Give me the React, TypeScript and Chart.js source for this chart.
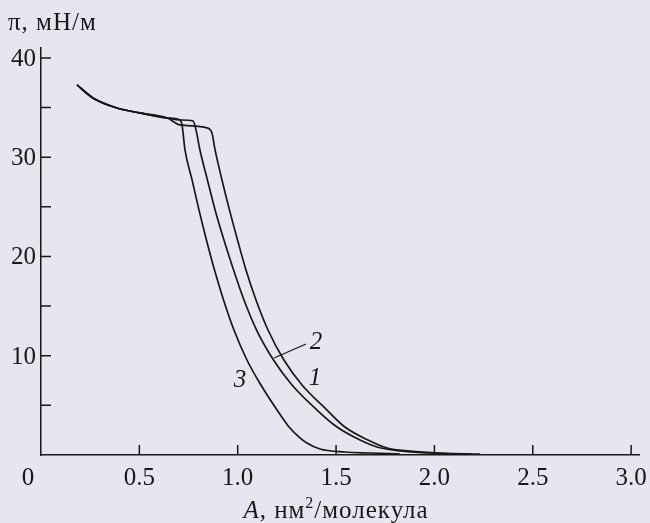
import React, { useEffect, useRef } from "react";
import { Chart, registerables } from "chart.js";

Chart.register(...registerables);

// Common starting branch (all three isotherms coincide here)
const plateauX = [0.183, 0.264, 0.386, 0.503, 0.641];
const plateauY = [37.28, 35.97, 34.96, 34.46, 33.95];

// Curve 3
const curve3X = [0.707, 0.717, 0.732, 0.768, 0.803, 0.841, 0.882, 0.928, 0.981, 1.047, 1.118, 1.2, 1.261, 1.312, 1.352, 1.418, 1.545, 1.673, 1.825];
const curve3Y = [33.75, 33.25, 30.73, 27.71, 24.69, 21.66, 18.64, 15.62, 12.59, 9.57, 7.05, 4.53, 2.82, 1.81, 1.21, 0.6, 0.3, 0.2, 0.1];

// Curve 2
const curve2X = [0.707, 0.773, 0.788, 0.808, 0.846, 0.885, 0.93, 0.979, 1.032, 1.096, 1.182, 1.276, 1.403, 1.505, 1.622, 1.708, 1.825, 1.978, 2.181];
const curve2Y = [33.75, 33.65, 32.75, 30.73, 27.71, 24.69, 21.66, 18.64, 15.62, 12.59, 9.57, 7.05, 4.53, 2.82, 1.51, 0.81, 0.4, 0.2, 0.1];

// Curve 1
const curve1X = [0.707, 0.844, 0.869, 0.885, 0.92, 0.958, 0.999, 1.042, 1.093, 1.154, 1.235, 1.327, 1.454, 1.545, 1.662, 1.759, 1.876, 2.028, 2.232];
const curve1Y = [33.25, 32.95, 32.44, 30.73, 27.71, 24.69, 21.66, 18.64, 15.62, 12.59, 9.57, 7.05, 4.53, 2.82, 1.51, 0.71, 0.4, 0.2, 0.1];

const xTicks = [0.5, 1.0, 1.5, 2.0, 2.5, 3.0];
const xTickLabels = ["0.5", "1.0", "1.5", "2.0", "2.5", "3.0"];
const yTicks = [5, 10, 15, 20, 25, 30, 35, 40];
const yLabelled = [10, 20, 30, 40];

const curveLabels = [
  { text: "3", x: 1.012, y: 7.56 },
  { text: "1", x: 1.393, y: 7.76 },
  { text: "2", x: 1.398, y: 11.39 },
];
const leader2 = { x1: 1.347, y1: 11.18, x2: 1.185, y2: 9.77 };

function build(xs: number[], ys: number[]) {
  const pts = plateauX.map((x, i) => ({ x, y: plateauY[i] }));
  return pts.concat(xs.map((x, i) => ({ x, y: ys[i] })));
}

const INK = "#181818";
const SERIF = '"Liberation Serif", "DejaVu Serif", serif';

const decorPlugin = {
  id: "decor",
  afterDraw(chart: any) {
    const ctx = chart.ctx as CanvasRenderingContext2D;
    const xs = chart.scales.x;
    const ys = chart.scales.y;
    const x0 = xs.getPixelForValue(0);
    const y0 = ys.getPixelForValue(0);
    ctx.save();
    ctx.strokeStyle = INK;
    ctx.fillStyle = INK;
    ctx.lineWidth = 1.5;
    // inward ticks
    ctx.beginPath();
    xTicks.forEach((v) => {
      const px = xs.getPixelForValue(v);
      ctx.moveTo(px, y0);
      ctx.lineTo(px, y0 - 10);
    });
    yTicks.forEach((v) => {
      const py = ys.getPixelForValue(v);
      ctx.moveTo(x0, py);
      ctx.lineTo(x0 + 10, py);
    });
    ctx.stroke();

    ctx.font = `25px ${SERIF}`;
    ctx.textBaseline = "alphabetic";
    // x tick labels
    ctx.textAlign = "center";
    xTicks.forEach((v, i) => {
      ctx.fillText(xTickLabels[i], xs.getPixelForValue(v), y0 + 30);
    });
    ctx.fillText("0", x0 - 13, y0 + 30);
    // y tick labels
    ctx.textAlign = "right";
    yLabelled.forEach((v) => {
      ctx.fillText(String(v), x0 - 5, ys.getPixelForValue(v) + 8);
    });

    // y title
    (ctx as any).letterSpacing = "1px";
    ctx.textAlign = "left";
    ctx.fillText("π, мН/м", 8, 30);

    // x title: A, нм²/молекула
    const parts: { t: string; font: string; dy: number }[] = [
      { t: "A", font: `italic 25px ${SERIF}`, dy: 0 },
      { t: ", нм", font: `25px ${SERIF}`, dy: 0 },
      { t: "2", font: `16px ${SERIF}`, dy: -10 },
      { t: "/молекула", font: `25px ${SERIF}`, dy: 0 },
    ];
    let total = 0;
    parts.forEach((p) => {
      ctx.font = p.font;
      total += ctx.measureText(p.t).width;
    });
    let cx = 336 - total / 2;
    parts.forEach((p) => {
      ctx.font = p.font;
      ctx.fillText(p.t, cx, 518 + p.dy);
      cx += ctx.measureText(p.t).width;
    });
    (ctx as any).letterSpacing = "0px";

    // curve labels
    ctx.font = `italic 25px ${SERIF}`;
    ctx.textAlign = "center";
    ctx.textBaseline = "middle";
    curveLabels.forEach((l) => {
      ctx.fillText(l.text, xs.getPixelForValue(l.x), ys.getPixelForValue(l.y));
    });
    ctx.lineWidth = 1.3;
    ctx.beginPath();
    ctx.moveTo(xs.getPixelForValue(leader2.x1), ys.getPixelForValue(leader2.y1));
    ctx.lineTo(xs.getPixelForValue(leader2.x2), ys.getPixelForValue(leader2.y2));
    ctx.stroke();
    ctx.restore();
  },
};

export default function App() {
  const ref = useRef<HTMLCanvasElement | null>(null);
  useEffect(() => {
    if (!ref.current) return;
    const ds = (data: any[]) => ({
      data,
      borderColor: INK,
      borderWidth: 1.7,
      pointRadius: 0,
      fill: false,
      cubicInterpolationMode: "monotone" as const,
    });
    const chart = new Chart(ref.current, {
      type: "line",
      data: {
        datasets: [
          ds(build(curve1X, curve1Y)),
          ds(build(curve2X, curve2Y)),
          ds(build(curve3X, curve3Y)),
        ],
      },
      options: {
        responsive: false,
        animation: false,
        layout: { padding: { left: 41, right: 11, top: 48, bottom: 68 } },
        plugins: { legend: { display: false }, tooltip: { enabled: false } },
        scales: {
          x: {
            type: "linear",
            min: 0,
            max: 3.04,
            grid: { display: false },
            ticks: { display: false },
            border: { display: true, color: INK, width: 1.5 },
            afterFit: (s: any) => {
              s.height = 0;
            },
          },
          y: {
            type: "linear",
            min: 0,
            max: 41,
            grid: { display: false },
            ticks: { display: false },
            border: { display: true, color: INK, width: 1.5 },
            afterFit: (s: any) => {
              s.width = 0;
            },
          },
        },
      },
      plugins: [decorPlugin],
    });
    return () => chart.destroy();
  }, []);
  return (
    <div
      style={{
        position: "fixed",
        left: 0,
        top: 0,
        width: 650,
        height: 523,
        background: "#e6e7ee",
      }}
    >
      <canvas ref={ref} width={650} height={523} />
    </div>
  );
}
